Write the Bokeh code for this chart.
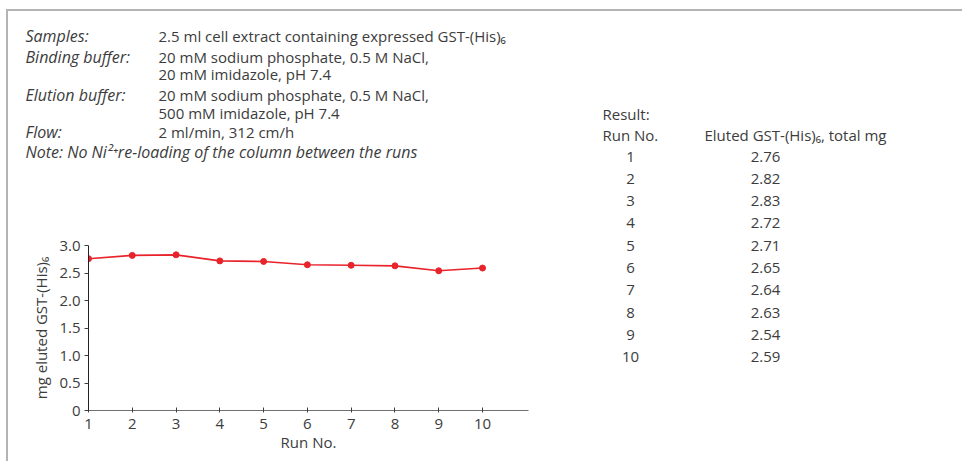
from bokeh.plotting import figure
from bokeh.models import Range1d, FixedTicker
from bokeh.layouts import row, column
from bokeh.core.properties import value
from bokeh.embed import file_html
from bokeh.resources import INLINE

# ---------------- data ----------------
runs = [1, 2, 3, 4, 5, 6, 7, 8, 9, 10]
eluted_mg = [2.76, 2.82, 2.83, 2.72, 2.71, 2.65, 2.64, 2.63, 2.54, 2.59]
x_ticks = [1, 2, 3, 4, 5, 6, 7, 8, 9, 10]
y_ticks = [0, 0.5, 1.0, 1.5, 2.0, 2.5, 3.0]
y_tick_labels = ["0", "0.5", "1.0", "1.5", "2.0", "2.5", "3.0"]

cond_names = ["Samples:", "Binding buffer:", "", "Elution buffer:", "", "Flow:"]
cond_values = [
    "2.5 ml cell extract containing expressed GST-(His)\u2086",
    "20 mM sodium phosphate, 0.5 M NaCl,",
    "20 mM imidazole, pH 7.4",
    "20 mM sodium phosphate, 0.5 M NaCl,",
    "500 mM imidazole, pH 7.4",
    "2 ml/min, 312 cm/h",
]
note_text = "Note: No Ni\u00b2\u207are-loading of the column between the runs"
table_title = "Result:"
table_col1 = "Run No."
table_col2 = "Eluted GST-(His)\u2086, total mg"
table_values = ["2.76", "2.82", "2.83", "2.72", "2.71", "2.65", "2.64", "2.63", "2.54", "2.59"]

# ---------------- style ----------------
FONT = "Open Sans"
TXT = "#3c3c3c"
RED = "#e8232b"
OX, OY = 8, 11          # page position of the layout's content origin
FULL_W = 954
LW = 560                # chart width
TOP_H = 223             # top block (page y 11..234)
BOT_H = 227             # bottom block (page y 234..461)
FS = "15px"
FS_IT = "16px"


def blank(width, height, x0, y0):
    f = figure(width=width, height=height, output_backend="svg",
               toolbar_location=None,
               x_range=Range1d(x0, x0 + width), y_range=Range1d(y0 + height, y0),
               min_border=0)
    f.axis.visible = False
    f.grid.visible = False
    f.outline_line_color = None
    f.background_fill_color = "white"
    f.border_fill_color = "white"
    return f


def put(f, xs, ys, texts, align="left", style="normal", size=FS):
    f.text(x=xs, y=ys, text=texts, text_font=value(FONT), text_font_size=size,
           text_color=TXT, text_align=align, text_baseline="middle",
           text_font_style=style)


row_y = [156 + i * 22.33 for i in range(len(runs))]
top_bottom = OY + TOP_H

# ---------- top block: conditions + table head ----------
pt = blank(FULL_W, TOP_H, OX, OY)
cond_rows = [35.5, 56.5, 73, 94.5, 112, 131]
name_rows = [yy for n, yy in zip(cond_names, cond_rows) if n]
put(pt, [25] * len(name_rows), name_rows, [n for n in cond_names if n],
    style="italic", size=FS_IT)
put(pt, [158] * len(cond_values), cond_rows, cond_values)
put(pt, [25], [151], [note_text], style="italic", size=FS_IT)
put(pt, [602], [113], [table_title])
put(pt, [602], [134], [table_col1])
put(pt, [704], [134], [table_col2])
top_idx = [i for i, yy in enumerate(row_y) if yy < top_bottom]
put(pt, [630] * len(top_idx), [row_y[i] for i in top_idx],
    [str(runs[i]) for i in top_idx], align="center")
put(pt, [765] * len(top_idx), [row_y[i] for i in top_idx],
    [table_values[i] for i in top_idx], align="center")

# ---------- chart ----------
p = figure(width=LW, height=BOT_H, output_backend="svg", toolbar_location=None,
           x_range=Range1d(1, 11.05), y_range=Range1d(0, 3.0),
           min_border_left=80, min_border_right=40, min_border_top=245 - top_bottom,
           min_border_bottom=BOT_H - (410 - top_bottom))
p.outline_line_color = None
p.grid.visible = False
p.background_fill_color = "white"
p.border_fill_color = "white"

p.line(runs, eluted_mg, line_color=RED, line_width=1.6)
p.scatter(runs, eluted_mg, size=6, fill_color=RED, line_color=RED)

xa = p.xaxis[0]
xa.ticker = FixedTicker(ticks=x_ticks)
xa.minor_tick_line_color = None
xa.major_tick_in = 3
xa.major_tick_out = 2
xa.axis_line_color = "#707070"
xa.major_tick_line_color = "#404040"
xa.major_label_text_font = FONT
xa.major_label_text_font_size = "15px"
xa.major_label_text_color = TXT
xa.major_label_standoff = 6
xa.axis_label = "Run No."
xa.axis_label_text_font = FONT
xa.axis_label_text_font_style = "normal"
xa.axis_label_text_font_size = "15px"
xa.axis_label_text_color = TXT
xa.axis_label_standoff = 0

ya = p.yaxis[0]
ya.ticker = FixedTicker(ticks=y_ticks)
ya.major_label_overrides = {t: s for t, s in zip(y_ticks, y_tick_labels)}
ya.minor_tick_line_color = None
ya.major_tick_in = 0
ya.major_tick_out = 4
ya.axis_line_color = "#222222"
ya.major_tick_line_color = "#404040"
ya.major_label_text_font = FONT
ya.major_label_text_font_size = "15px"
ya.major_label_text_color = TXT
ya.major_label_standoff = 4
ya.axis_label = "mg eluted GST-(His)\u2086"
ya.axis_label_text_font = FONT
ya.axis_label_text_font_style = "normal"
ya.axis_label_text_font_size = "15px"
ya.axis_label_text_color = TXT
ya.axis_label_standoff = 5

# ---------- lower part of the results table ----------
pr = blank(FULL_W - LW, BOT_H, OX + LW, top_bottom)
bot_idx = [i for i, yy in enumerate(row_y) if yy >= top_bottom]
put(pr, [630] * len(bot_idx), [row_y[i] for i in bot_idx],
    [str(runs[i]) for i in bot_idx], align="center")
put(pr, [765] * len(bot_idx), [row_y[i] for i in bot_idx],
    [table_values[i] for i in bot_idx], align="center")

layout = column(pt, row(p, column(pr)))
layout.styles = {"border-top": "2px solid #b4b4b4", "border-left": "2px solid #b4b4b4",
                 "margin-left": "6px", "margin-top": "9px"}

open("out.html", "w").write(file_html(layout, INLINE))
